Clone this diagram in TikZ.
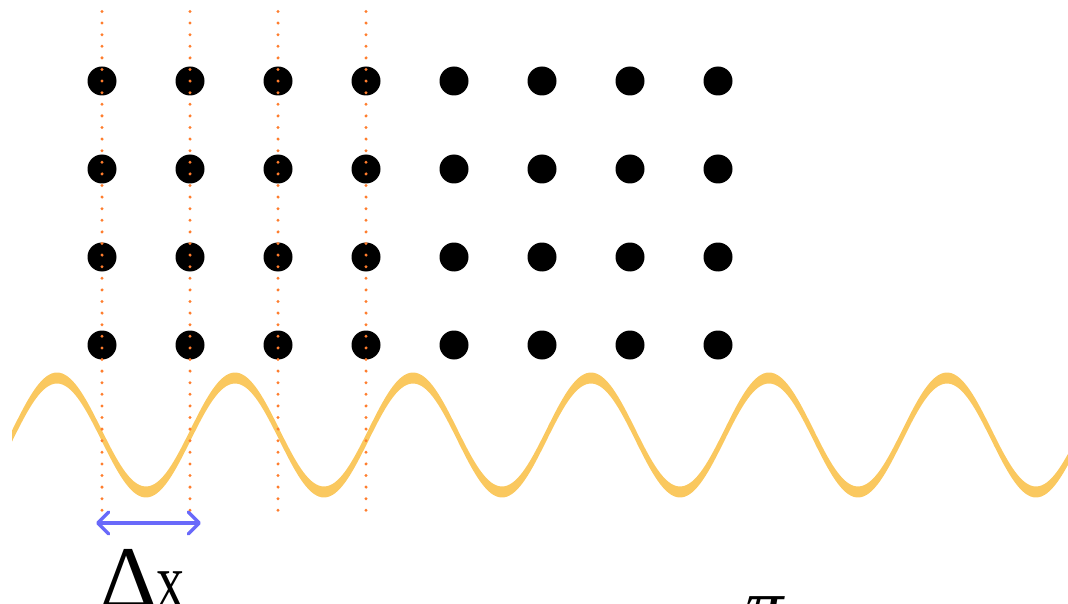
\documentclass[tikz,border=0pt]{standalone}
\usepackage{fontspec}
\setmainfont{Liberation Serif}
\usetikzlibrary{arrows.meta}
\definecolor{wavecol}{RGB}{250,200,95}
\definecolor{dotline}{RGB}{255,125,45}
\definecolor{arrowblue}{RGB}{105,105,250}
\begin{document}
\begin{tikzpicture}[x=1pt,y=-1pt,
  ball/.style={circle,fill=black,minimum size=29pt,inner sep=0pt},
  guide/.style={dotline,line width=3.3pt,line cap=round,dash pattern=on 0pt off 11.6pt},
  span/.style={arrowblue,line width=3.5pt,line cap=round,
    {Straight Barb[length=11pt,width=22pt,line cap=round,line join=round]}-{Straight Barb[length=11pt,width=22pt,line cap=round,line join=round]}},
  bigtext/.style={anchor=base west,inner sep=0pt,font=\fontsize{76}{80}\selectfont}
]
\useasboundingbox (0,0) rectangle (1068,604);
% wave ribbon
\fill[wavecol] plot[domain=12:1068,samples=400] (\x,{435-57*cos(2.022472*(\x-57))-5.5})
  -- plot[domain=1068:12,samples=400] (\x,{435-57*cos(2.022472*(\x-57))+5.5}) -- cycle;
% balls
\foreach \i in {1,...,8}{
  \foreach \j in {1,...,4}{
    \node[ball] (b\i\j) at ({14+88*\i},{-7+88*\j}) {};
  }
}
% guides
\foreach \i in {1,...,4}{
  \coordinate (gt\i) at ({14+88*\i},11.5);
  \coordinate (gb\i) at ({14+88*\i},511);
  \draw[guide] (gt\i) -- (gb\i);
}
% arrow
\coordinate (al) at (96,523);
\coordinate (ar) at (201,523);
\draw[span] (al) -- (ar);
% labels
\node[bigtext] (dx) at (100,607) {{\fontsize{88}{90}\selectfont Δ}{\fontsize{78}{80}\selectfont\scalebox{0.72}[1]{x}}};
\node[bigtext,font=\fontsize{76}{80}\selectfont\itshape] (pi) at (745,631) {π};
\end{tikzpicture}
\end{document}
